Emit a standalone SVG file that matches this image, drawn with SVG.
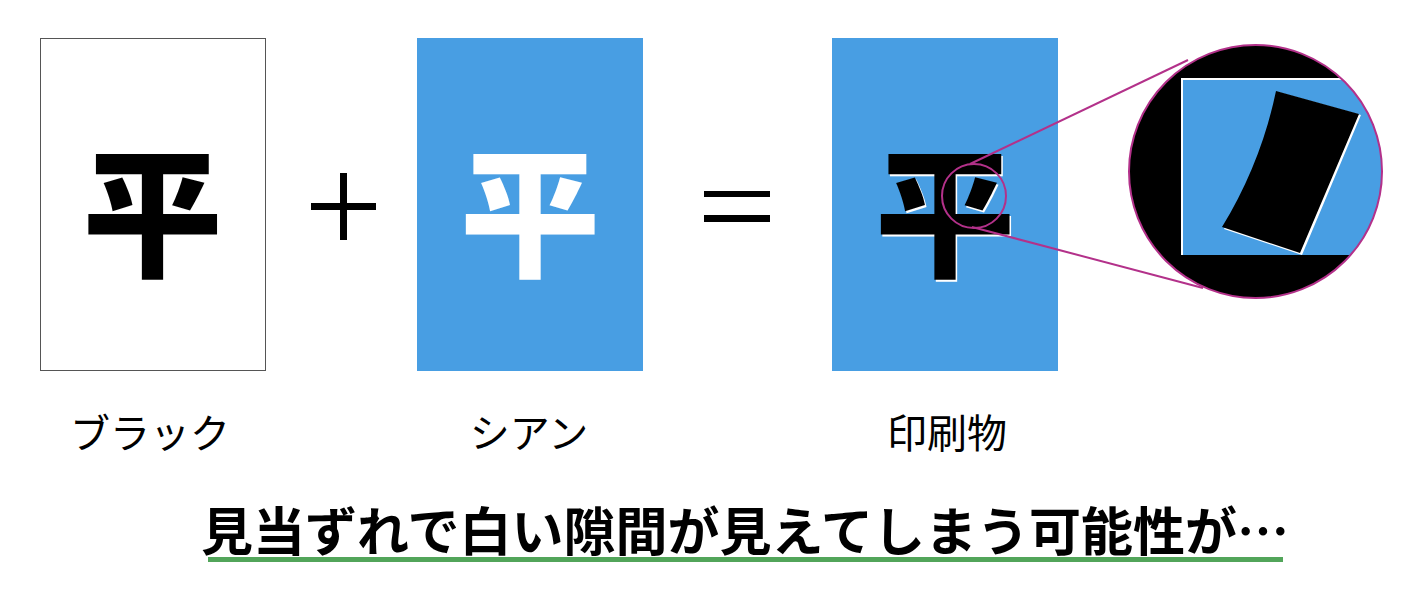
<svg xmlns="http://www.w3.org/2000/svg" width="1418" height="612" viewBox="0 0 1418 612">
  <defs>
    <style>
      .glyph { font-family: "Noto Sans CJK JP", "Noto Sans CJK SC", sans-serif; font-weight: 900; font-size: 140px; text-anchor: middle; }
      .label { font-family: "Noto Sans CJK JP", "Noto Sans CJK SC", sans-serif; font-weight: 400; font-size: 40px; text-anchor: middle; fill: #000; }
      .caption { font-family: "Noto Sans CJK JP", "Noto Sans CJK SC", sans-serif; font-weight: 700; font-size: 52px; text-anchor: middle; fill: #000; }
      .blue { fill: #489EE3; }
      .op { fill: #000; }
      .mag { fill: none; stroke: #B3318A; stroke-width: 2; }
    </style>
    <clipPath id="zoomClip">
      <circle cx="1255.5" cy="171.5" r="126.5"/>
    </clipPath>
  </defs>
  <rect width="1418" height="612" fill="#fff"/>

  <g id="black-plate">
    <rect x="40.5" y="38.5" width="225" height="332" fill="#fff" stroke="#555" stroke-width="1"/>
    <text class="glyph" x="152.5" y="266" fill="#000">平</text>
  </g>

  <g id="plus">
    <rect class="op" x="311" y="203" width="65" height="7"/>
    <rect class="op" x="340" y="173" width="7" height="67"/>
  </g>

  <g id="cyan-plate">
    <rect class="blue" x="417" y="38" width="226" height="333"/>
    <text class="glyph" x="530" y="266" fill="#fff">平</text>
  </g>

  <g id="equals">
    <rect class="op" x="704" y="191" width="66" height="6"/>
    <rect class="op" x="704" y="215" width="66" height="7"/>
  </g>

  <g id="print-result">
    <rect class="blue" x="832" y="38" width="226" height="333"/>
    <text class="glyph" x="946.5" y="267.5" fill="#fff">平</text>
    <text class="glyph" x="945" y="266" fill="#000">平</text>
  </g>

  <g id="magnifier">
    <g clip-path="url(#zoomClip)">
      <rect x="1128" y="44" width="256" height="256" fill="#000"/>
      <rect x="1181" y="78" width="220" height="177" fill="#fff"/>
      <rect class="blue" x="1183" y="80" width="220" height="175"/>
      <path d="M1278,92 L1361,115 L1302,255 L1224,229 Q1263,165 1278,92 Z" fill="#fff"/>
      <path d="M1276,91 L1359,114 L1300,253 L1222,227 Q1261,163 1276,91 Z" fill="#000"/>
    </g>
    <circle class="mag" cx="1255.5" cy="171.5" r="126.5"/>
  </g>

  <g id="connectors">
    <circle class="mag" cx="974" cy="196" r="32"/>
    <line class="mag" x1="970" y1="164" x2="1188" y2="60"/>
    <line class="mag" x1="972" y1="227" x2="1203" y2="288"/>
  </g>

  <g id="labels">
    <text class="label" x="150" y="448">ブラック</text>
    <text class="label" x="529" y="448">シアン</text>
    <text class="label" x="947" y="448">印刷物</text>
  </g>

  <g id="caption">
    <text class="caption" x="745" y="551">見当ずれで白い隙間が見えてしまう可能性が…</text>
    <rect x="208" y="557" width="1075" height="5" fill="#52A55A"/>
  </g>
</svg>
